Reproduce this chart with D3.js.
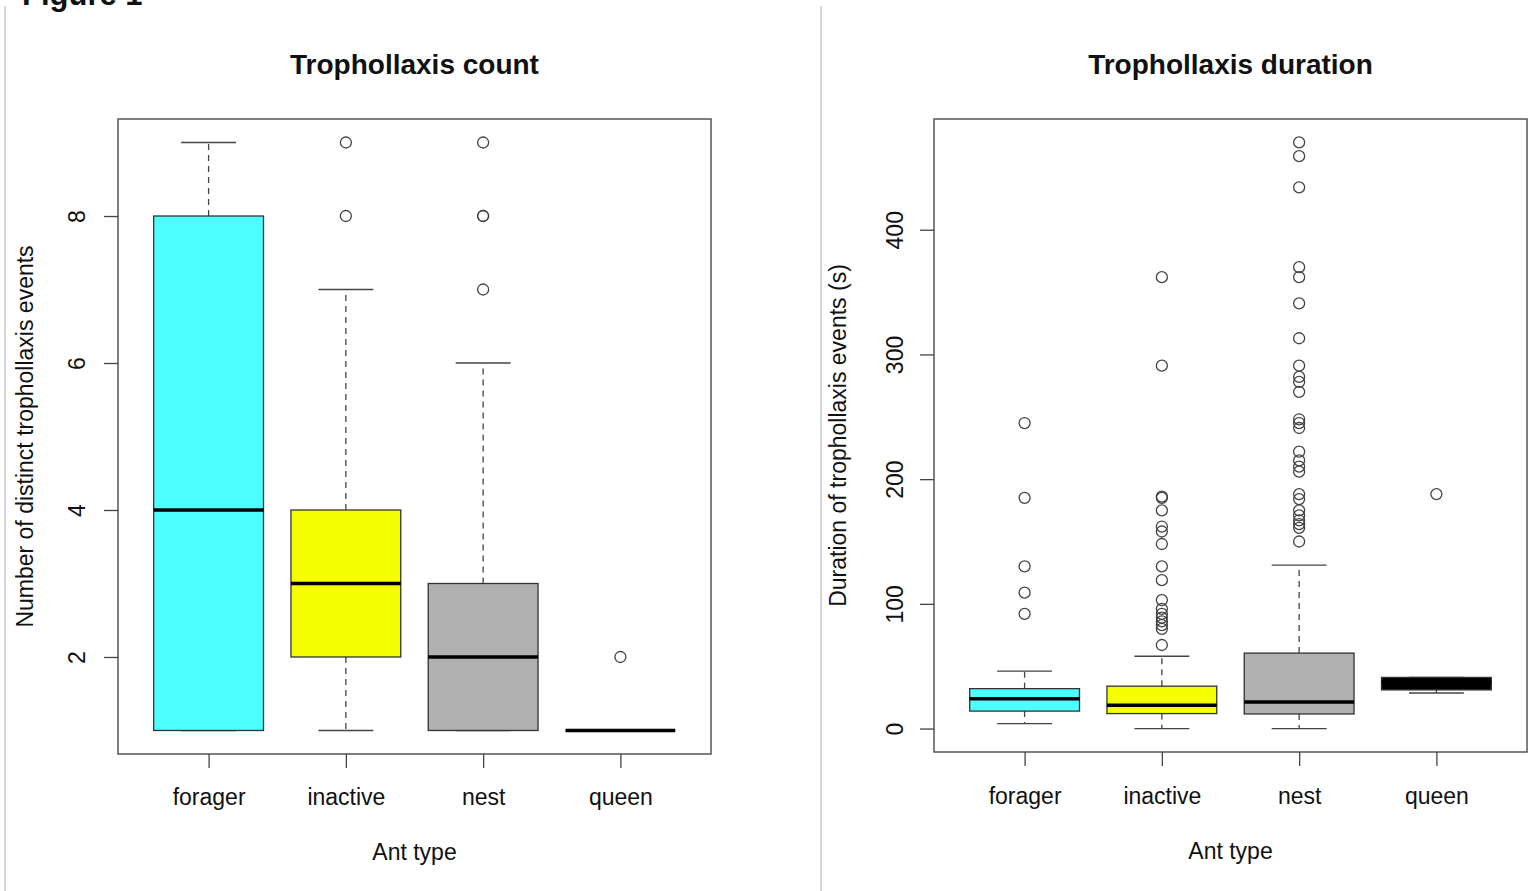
<!DOCTYPE html>
<meta charset="utf-8">
<script src="https://d3js.org/d3.v7.js"></script>
<style>
  body { margin: 0; background: #fff; }
  text { font-family: "Liberation Sans", Arial, sans-serif; fill: #111; }
</style>
<div id="figure"></div>

<script>

var antTypes = ["forager", "inactive", "nest", "queen"];
var boxColors = ["#4dffff", "#f5ff00", "#b0b0b0", "#000000"];

// Trophollaxis count (boxplot stats)
var countLow = [1, 1, 1, 1];
var countQ1 = [1, 2, 1, 1];
var countMedian = [4, 3, 2, 1];
var countQ3 = [8, 4, 3, 1];
var countHigh = [9, 7, 6, 1];
var countOutliers = [[], [8, 9], [7, 8, 8, 9], [2]];
var countTicks = [2, 4, 6, 8];

// Trophollaxis duration (boxplot stats, seconds)
var durLow = [4, 0, 0, 28.5];
var durQ1 = [14, 12, 11.7, 31];
var durMedian = [24, 18.7, 21.3, 37];
var durQ3 = [32, 34, 60.5, 41];
var durHigh = [46, 58, 131, 41];
var durOutliers = [
  [245, 185, 130, 109, 92],
  [362, 291, 186, 185, 175, 162, 158, 148, 130, 119, 103, 96, 92, 89, 86, 83, 80, 67],
  [470, 459, 434, 370, 362, 341, 313, 291, 282, 278, 270, 248, 245, 241, 222, 215,
   210, 206, 188, 184, 175, 171, 167, 164, 161, 150],
  [188]
];
var durTicks = [0, 100, 200, 300, 400];

var svg = d3.select("#figure")
  .append("svg")
    .attr("width", 1534)
    .attr("height", 891);

// figure heading, cut at the top edge like the source screenshot
svg.append("text")
  .attr("x", 22)
  .attr("y", 5)
  .attr("font-size", 31)
  .attr("font-weight", "bold")
  .text("Figure 1");

// panel separators
[5, 821].forEach(function(x) {
  svg.append("line")
    .attr("x1", x).attr("x2", x)
    .attr("y1", 6).attr("y2", 891)
    .attr("stroke", "#c8c8c8")
    .attr("stroke-width", 1.5);
});

function drawPanel(p) {
  var g = svg.append("g");

  var x = d3.scaleLinear().domain([0.34, 4.66]).range([p.left, p.right]);
  var y = d3.scaleLinear().domain(p.domain).range([p.bottom, p.top]);
  var half = x(1.4) - x(1);

  var boxes = antTypes.map(function(t, i) {
    return {type: t, i: i + 1, color: boxColors[i], low: p.low[i], q1: p.q1[i],
            med: p.med[i], q3: p.q3[i], high: p.high[i], out: p.out[i]};
  });

  var b = g.selectAll(".box")
    .data(boxes)
    .enter().append("g");

  // whiskers
  b.append("line")
    .attr("x1", function(d) { return x(d.i); })
    .attr("x2", function(d) { return x(d.i); })
    .attr("y1", function(d) { return y(d.q3); })
    .attr("y2", function(d) { return y(d.high); })
    .attr("stroke", "#444").attr("stroke-width", 1.3).attr("stroke-dasharray", "6,5");
  b.append("line")
    .attr("x1", function(d) { return x(d.i); })
    .attr("x2", function(d) { return x(d.i); })
    .attr("y1", function(d) { return y(d.q1); })
    .attr("y2", function(d) { return y(d.low); })
    .attr("stroke", "#444").attr("stroke-width", 1.3).attr("stroke-dasharray", "6,5");
  // staples
  ["high", "low"].forEach(function(k) {
    b.append("line")
      .attr("x1", function(d) { return x(d.i) - half / 2; })
      .attr("x2", function(d) { return x(d.i) + half / 2; })
      .attr("y1", function(d) { return y(d[k]); })
      .attr("y2", function(d) { return y(d[k]); })
      .attr("stroke", "#444").attr("stroke-width", 1.3);
  });

  // boxes
  b.append("rect")
    .attr("x", function(d) { return x(d.i) - half; })
    .attr("width", 2 * half)
    .attr("y", function(d) { return y(d.q3); })
    .attr("height", function(d) { return y(d.q1) - y(d.q3); })
    .attr("fill", function(d) { return d.color; })
    .attr("stroke", "#333").attr("stroke-width", 1.3);

  // medians
  b.append("line")
    .attr("x1", function(d) { return x(d.i) - half; })
    .attr("x2", function(d) { return x(d.i) + half; })
    .attr("y1", function(d) { return y(d.med); })
    .attr("y2", function(d) { return y(d.med); })
    .attr("stroke", "#000").attr("stroke-width", 3.5);

  // outliers
  b.selectAll("circle")
    .data(function(d) { return d.out.map(function(v) { return {i: d.i, v: v}; }); })
    .enter().append("circle")
      .attr("cx", function(d) { return x(d.i); })
      .attr("cy", function(d) { return y(d.v); })
      .attr("r", 5.5)
      .attr("fill", "none")
      .attr("stroke", "#444")
      .attr("stroke-width", 1.3);

  // frame
  g.append("rect")
    .attr("x", p.left).attr("y", p.top)
    .attr("width", p.right - p.left).attr("height", p.bottom - p.top)
    .attr("fill", "none").attr("stroke", "#555").attr("stroke-width", 1.5);

  // y axis
  var ya = g.append("g")
    .attr("transform", "translate(" + p.left + ",0)")
    .call(d3.axisLeft(y).tickValues(p.ticks).tickSize(14).tickFormat(d3.format("d")));
  ya.select(".domain").remove();
  ya.selectAll("line").attr("stroke", "#444").attr("stroke-width", 1.3);
  ya.selectAll("text")
    .attr("x", null).attr("dy", null)
    .attr("transform", "translate(" + (-p.tickLabelOff) + ",0) rotate(-90)")
    .attr("text-anchor", "middle")
    .attr("font-size", 23)
    .attr("font-family", "Liberation Sans, Arial, sans-serif")
    .attr("fill", "#111");

  // x axis
  var xa = g.append("g")
    .attr("transform", "translate(0," + p.bottom + ")")
    .call(d3.axisBottom(x).tickValues([1, 2, 3, 4]).tickSize(14)
      .tickFormat(function(d) { return antTypes[d - 1]; }));
  xa.select(".domain").remove();
  xa.selectAll("line").attr("stroke", "#444").attr("stroke-width", 1.3);
  xa.selectAll("text")
    .attr("dy", null)
    .attr("y", p.xLabelY - p.bottom)
    .attr("font-size", 23)
    .attr("font-family", "Liberation Sans, Arial, sans-serif")
    .attr("fill", "#111");

  var cx = (p.left + p.right) / 2;

  g.append("text")
    .attr("x", cx).attr("y", 74)
    .attr("text-anchor", "middle")
    .attr("font-size", 28)
    .attr("font-weight", "bold")
    .text(p.title);

  g.append("text")
    .attr("x", cx).attr("y", p.xTitleY)
    .attr("text-anchor", "middle")
    .attr("font-size", 23)
    .text("Ant type");

  g.append("text")
    .attr("transform", "translate(" + p.yTitleX + "," + (p.top + p.bottom) / 2 + ") rotate(-90)")
    .attr("text-anchor", "middle")
    .attr("font-size", 23)
    .text(p.yTitle);
}

drawPanel({
  left: 118, right: 711, top: 119, bottom: 754,
  domain: [0.68, 9.32], ticks: countTicks,
  low: countLow, q1: countQ1, med: countMedian, q3: countQ3, high: countHigh, out: countOutliers,
  title: "Trophollaxis count",
  yTitle: "Number of distinct trophollaxis events",
  tickLabelOff: 33, yTitleX: 33, xLabelY: 805, xTitleY: 860
});

drawPanel({
  left: 934, right: 1527, top: 119, bottom: 752,
  domain: [-18.8, 488.8], ticks: durTicks,
  low: durLow, q1: durQ1, med: durMedian, q3: durQ3, high: durHigh, out: durOutliers,
  title: "Trophollaxis duration",
  yTitle: "Duration of trophollaxis events (s)",
  tickLabelOff: 31, yTitleX: 846, xLabelY: 804, xTitleY: 859
});

</script>
